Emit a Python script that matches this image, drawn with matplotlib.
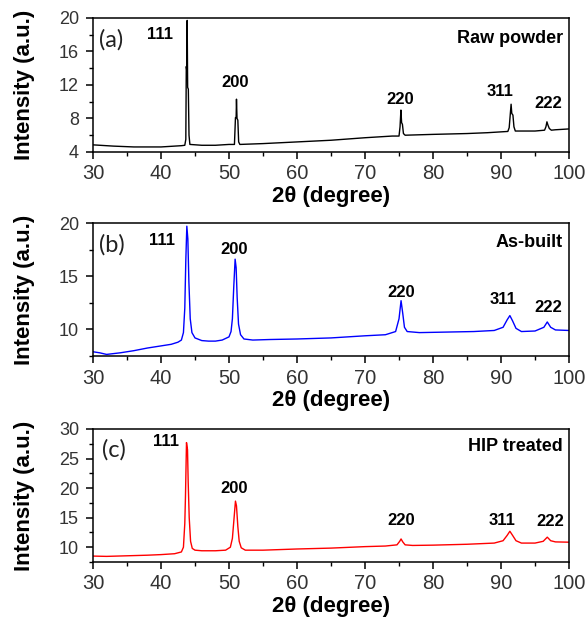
import matplotlib
matplotlib.use('Agg')
import matplotlib.pyplot as plt
from matplotlib.ticker import MultipleLocator

plt.rcParams['font.family'] = ['Liberation Sans', 'DejaVu Sans']

# (a) raw powder
two_theta_a = [30, 33, 36, 40, 43, 43.5, 43.65, 43.72, 43.78, 43.85, 43.92, 44.02, 44.12, 44.25,
               46, 48, 50, 50.8, 50.95, 51.05, 51.1, 51.18, 51.3, 51.42, 51.6, 55, 60, 65, 70, 74,
               75.0, 75.15, 75.28, 75.38, 75.5, 75.65, 75.9, 80, 85, 88, 91.0, 91.2, 91.35, 91.48,
               91.58, 91.75, 91.9, 92.1, 92.5, 95, 96.4, 96.6, 96.75, 96.9, 97.1, 97.4, 98, 100]
intensity_a = [4.85, 4.7, 4.6, 4.6, 4.75, 4.8, 5.5, 14.2, 13.8, 19.7, 11.7, 11.5, 6.0, 4.9,
               4.8, 4.8, 4.9, 4.9, 8.1, 8.1, 10.3, 8.0, 7.8, 5.2, 4.9, 5.0, 5.2, 5.4, 5.7, 5.9,
               5.9, 7.0, 9.0, 7.5, 7.3, 6.2, 6.0, 6.1, 6.2, 6.3, 6.45, 6.9, 8.4, 9.7,
               8.6, 8.4, 7.0, 6.5, 6.5, 6.5, 6.6, 7.0, 7.6, 7.2, 6.8, 6.6, 6.65, 6.75]

# (b) as-built
two_theta_b = [30, 31, 32, 34, 36, 38, 40, 41.5, 42.5, 43.0, 43.3, 43.5, 43.65, 43.8, 43.95, 44.1,
               44.3, 44.55, 45, 46, 47, 48, 49, 50.0, 50.3, 50.5, 50.7, 50.9, 51.05, 51.2, 51.4,
               51.7, 52.2, 53.5, 56, 60, 65, 70, 73, 74.5, 75.0, 75.3, 75.55, 75.8, 76.2, 78, 82,
               86, 89, 90.3, 90.9, 91.3, 91.7, 92.2, 93, 95, 96.3, 96.8, 97.3, 98, 100]
intensity_b = [7.9, 7.8, 7.65, 7.8, 8.0, 8.25, 8.45, 8.6, 8.8, 9.0, 9.7, 12.0, 16.5, 19.7, 18.5, 14.5,
               11.0, 9.7, 9.2, 8.95, 8.9, 8.9, 9.0, 9.3, 9.8, 11.0, 14.0, 16.6, 15.8, 13.0, 10.5,
               9.5, 9.1, 9.0, 9.05, 9.1, 9.2, 9.4, 9.5, 9.8, 11.0, 12.7, 11.5, 10.2, 9.8, 9.7, 9.75,
               9.8, 9.9, 10.2, 10.9, 11.3, 10.8, 10.1, 9.8, 9.85, 10.2, 10.7, 10.2, 9.95, 9.9]

# (c) HIP treated
two_theta_c = [30, 32, 35, 38, 40, 42, 43.0, 43.3, 43.5, 43.6, 43.75, 43.9, 44.0, 44.15, 44.35,
               44.6, 45, 46, 48, 49.5, 50.2, 50.5, 50.75, 50.95, 51.1, 51.3, 51.5, 51.8, 52.4, 55,
               60, 65, 70, 73, 74.7, 75.1, 75.3, 75.55, 75.9, 77, 80, 85, 89, 90.3, 90.9, 91.3,
               91.7, 92.2, 93, 95, 96.2, 96.8, 97.3, 98, 100]
intensity_c = [8.5, 8.45, 8.55, 8.65, 8.75, 8.9, 9.2, 10.0, 14.0, 18.6, 27.7, 26.5, 21.0, 15.0, 11.0,
               9.8, 9.5, 9.4, 9.4, 9.5, 10.0, 11.5, 15.0, 17.8, 17.0, 13.5, 11.0, 9.9, 9.5, 9.5,
               9.7, 9.85, 10.1, 10.2, 10.4, 11.0, 11.4, 10.9, 10.4, 10.3, 10.35, 10.5, 10.7, 11.1,
               12.0, 12.7, 12.0, 11.1, 10.7, 10.7, 11.0, 11.7, 11.1, 10.9, 10.85]

peak_names = ['111', '200', '220', '311', '222']
label_x = {'a': [39.9, 50.9, 75.1, 89.9, 96.9],
           'b': [40.1, 50.7, 75.3, 90.3, 96.9],
           'c': [40.7, 50.7, 75.3, 90.2, 97.2]}
label_y = {'a': [18.0, 12.3, 10.3, 11.2, 9.8],
           'b': [18.4, 17.5, 13.5, 12.8, 12.1],
           'c': [27.8, 20.0, 14.6, 14.6, 14.3]}

fig = plt.figure(figsize=(5.87, 6.28), dpi=100, facecolor='white')

panels = [
    ('a', two_theta_a, intensity_a, 'black', 'Raw powder', (4, 20), 4, 2,
     [0.1584, 0.758, 0.811, 0.2135], (0.013, 0.836), 0.85),
    ('b', two_theta_b, intensity_b, '#0000ff', 'As-built', (7.5, 20), 5, 2.5,
     [0.1584, 0.4331, 0.811, 0.2118], (0.013, 0.835), 0.857),
    ('c', two_theta_c, intensity_c, '#ff0000', 'HIP treated', (7.5, 30), 5, 2.5,
     [0.1584, 0.1051, 0.811, 0.2118], (0.019, 0.842), 0.872),
]

for key, x, y, color, title, ylim, major, minor, rect, tag_pos, title_y in panels:
    ax = fig.add_axes(rect)
    ax.plot(x, y, color=color, lw=1.0)
    ax.set_xlim(30, 100)
    ax.set_ylim(*ylim)
    ax.xaxis.set_major_locator(MultipleLocator(10))
    ax.xaxis.set_minor_locator(MultipleLocator(5))
    ax.yaxis.set_major_locator(MultipleLocator(major))
    ax.yaxis.set_minor_locator(MultipleLocator(minor))
    ax.tick_params(which='major', direction='out', length=5, width=1.1, colors='black')
    ax.tick_params(which='minor', direction='out', length=3, width=1.0)
    ax.tick_params(axis='x', labelsize=14.5, labelcolor='#333333', pad=4)
    ax.tick_params(axis='y', labelsize=13, labelcolor='#333333', pad=5)
    for s in ax.spines.values():
        s.set_linewidth(1.1)
    ax.set_xlabel('2θ (degree)', fontsize=16, fontweight='bold')
    ax.xaxis.set_label_coords(0.5, -0.255)
    ax.set_ylabel('Intensity (a.u.)', fontsize=16, fontweight='bold')
    ax.yaxis.set_label_coords(-0.122, 0.5)
    ax.text(tag_pos[0], tag_pos[1], '(' + key + ')', transform=ax.transAxes, fontsize=17,
            family=['Lato', 'DejaVu Sans'], color='#222222', va='center', ha='left')
    ax.text(0.987, title_y, title, transform=ax.transAxes, fontsize=13, fontweight='bold',
            va='center', ha='right')
    for name, px, py in zip(peak_names, label_x[key], label_y[key]):
        ax.text(px, py, name, fontsize=12, fontweight='bold', ha='center', va='center')

fig.savefig('out.png', dpi=100)
